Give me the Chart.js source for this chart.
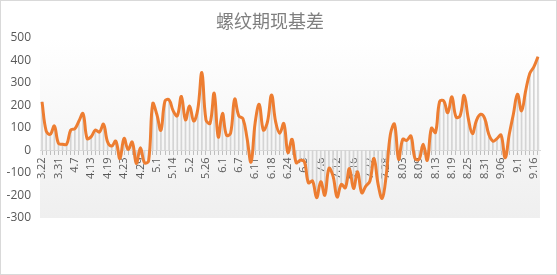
<!DOCTYPE html>
<html>
<head>
<meta charset="utf-8">
<script src="https://cdn.jsdelivr.net/npm/chart.js@4/dist/chart.umd.min.js"></script>
<style>
  html, body { margin: 0; padding: 0; background: #fff; }
  canvas { display: block; }
</style>
</head>
<body>
<canvas id="chart" width="557" height="275"></canvas>
<script>
const title = '螺纹期现基差';

// one label every 4 trading days
const dateLabels = ['3.22', '3.31', '4.7', '4.13', '4.19', '4.23', '4.29', '5.1', '5.14', '5.2',
  '5.26', '6.1', '6.7', '6.11', '6.18', '6.24', '6.3', '7.6', '7.12', '7.16',
  '7.22', '7.28', '8.03', '8.09', '8.13', '8.19', '8.25', '8.31', '9.06', '9.1', '9.16'];

const basis = [
  215, 86, 71, 108, 31, 27, 27, 90, 96, 130,
  163, 52, 61, 90, 81, 116, 37, 19, 41, -37,
  53, 4, 37, -58, 12, -55, -47, 207, 160, 89,
  219, 224, 175, 153, 239, 135, 197, 130, 182, 345,
  135, 120, 253, 59, 164, 67, 76, 227, 153, 141,
  56, -52, 123, 204, 90, 126, 246, 126, 76, 119,
  -10, 49, -55, -44, -50, -144, -136, -210, -139, -199,
  -80, -114, -207, -151, -166, -80, -169, -95, -188, -159,
  -136, -36, -151, -213, -107, 71, 116, -40, 49, 44,
  64, -36, -40, 27, -44, 98, 79, 216, 219, 167,
  237, 148, 153, 244, 142, 74, 133, 160, 142, 71,
  41, 52, 68, -33, 71, 160, 249, 175, 264, 341,
  370, 415
];

const yMin = -300, yMax = 500, yStep = 100;

const labels = basis.map((v, i) => (i % 4 === 0 ? (dateLabels[i / 4] || '') : ''));

const backdrop = {
  id: 'backdrop',
  beforeDraw(chart) {
    const { ctx, chartArea: a, width, height } = chart;
    ctx.save();
    ctx.fillStyle = '#ffffff';
    ctx.fillRect(0, 0, width, height);
    const g = ctx.createLinearGradient(0, a.top, 0, a.bottom);
    g.addColorStop(0, '#ffffff');
    g.addColorStop(1, '#efefef');
    ctx.fillStyle = g;
    ctx.fillRect(a.left, a.top, a.right - a.left, a.bottom - a.top);
    ctx.strokeStyle = '#d9d9d9';
    ctx.lineWidth = 1;
    ctx.strokeRect(0.5, 0.5, width - 1, height - 1);
    ctx.restore();
  }
};

new Chart(document.getElementById('chart').getContext('2d'), {
  type: 'bar',
  data: {
    labels: labels,
    datasets: [
      {
        type: 'line',
        label: title,
        data: basis,
        borderColor: '#ED7D31',
        borderWidth: 3,
        pointRadius: 0,
        tension: 0.4,
        fill: false,
        order: 1,
      },
      {
        type: 'bar',
        label: 'drop',
        data: basis,
        backgroundColor: '#d4d4d4',
        barThickness: 1,
        order: 2,
      },
    ],
  },
  options: {
    responsive: false,
    animation: false,
    devicePixelRatio: 1,
    layout: { padding: { left: 0, right: 17, top: 0, bottom: 57 } },
    plugins: {
      legend: { display: false },
      tooltip: { enabled: false },
      title: {
        display: true,
        text: title,
        color: '#7f7f7f',
        font: { family: '"Noto Sans CJK SC", "Noto Sans", sans-serif', size: 18, weight: 'normal', lineHeight: 1.2 },
        padding: { top: 10, bottom: 6 },
      },
    },
    scales: {
      x: {
        position: { y: 0 },
        offset: true,
        grid: {
          display: true,
          drawOnChartArea: false,
          offset: false,
          tickLength: 4,
          color: '#bfbfbf',
        },
        border: { display: true, color: '#d9d9d9', width: 1 },
        ticks: {
          autoSkip: false,
          minRotation: 90,
          maxRotation: 90,
          padding: 3,
          color: '#595959',
          font: { family: '"Open Sans", "Noto Sans", sans-serif', size: 11 },
        },
      },
      y: {
        min: yMin,
        max: yMax,
        afterFit(scale) { scale.width = 40; },
        grid: { display: false, drawTicks: false },
        border: { display: false },
        ticks: {
          stepSize: yStep,
          padding: 9,
          color: '#595959',
          font: { family: '"Open Sans", "Noto Sans", sans-serif', size: 12 },
        },
      },
    },
  },
  plugins: [backdrop],
});
</script>
</body>
</html>
